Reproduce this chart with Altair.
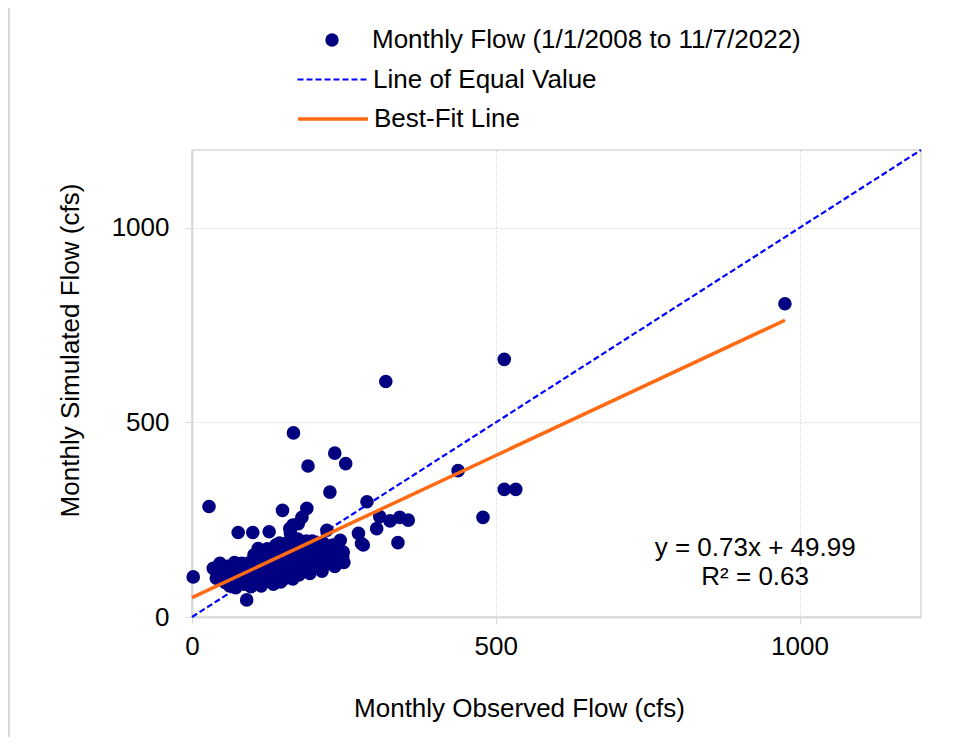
import altair as alt
import pandas as pd

# ---- data ----
observed = [
    976, 514, 319, 167, 235, 253, 191, 438, 227, 288, 28, 149, 189, 479, 514, 533,
    76, 100, 127, 175, 161, 222, 274, 304, 279, 309, 326, 342, 356, 339, 282, 247,
    244, 230, 2, 90, 46, 35, 109, 249, 181, 166,
    40, 45, 50, 52, 55, 58, 60,
    62, 65, 68, 70, 72, 75, 78, 80,
    82, 84, 86, 88, 90, 92, 95, 97, 99, 100,
    102, 104, 106, 108, 110, 112, 114, 116, 118, 120,
    122, 124, 126, 128, 130, 132, 134, 136, 138, 140,
    142, 144, 146, 148, 150, 152, 154, 156, 158, 160,
    162, 164, 166, 168, 170, 172, 174, 176, 178, 180,
    182, 184, 186, 188, 190, 192, 194, 196, 198, 200,
    202, 204, 206, 208, 210, 212, 214, 216, 218, 220,
    223, 226, 228, 232, 235, 238, 242, 245, 248, 250,
]
simulated = [
    805, 662, 605, 473, 421, 394, 388, 376, 321, 296, 284, 274, 279, 256, 328, 328,
    217, 217, 219, 240, 227, 223, 215, 227, 189, 258, 247, 256, 249, 191, 185, 167,
    197, 141, 103, 44, 138, 125, 176, 167, 256, 236,
    100, 112, 95, 120, 88, 130, 105,
    80, 118, 95, 140, 75, 108, 125, 88,
    138, 100, 84, 132, 115, 90, 140, 78, 105, 125,
    160, 85, 138, 98, 118, 150, 80, 170, 108, 130,
    92, 175, 145, 115, 100, 165, 84, 130, 185, 110,
    150, 190, 90, 175, 125, 140, 100, 190, 160, 115,
    215, 135, 98, 180, 150, 120, 200, 108, 165, 140,
    190, 118, 155, 195, 130, 175, 112, 145, 195, 160,
    128, 180, 150, 185, 138, 170, 118, 190, 155, 135,
    175, 175, 150, 185, 130, 165, 165, 150, 155, 140,
]

points_label = "Monthly Flow (1/1/2008 to 11/7/2022)"
equal_label = "Line of Equal Value"
fit_label = "Best-Fit Line"

equal_x = [0, 1200]
equal_y = [0, 1200]
fit_x = [0, 976]
fit_y = [49.99, 762.5]

eq_lines = ["y = 0.73x + 49.99", "R\u00b2 = 0.63"]
eq_x = [927, 927]
eq_y = [177, 103]

FONT = "Liberation Sans"
FS = 26

pts = pd.DataFrame({"obs": observed, "sim": simulated, "series": points_label})
eq_df = pd.DataFrame({"obs": equal_x, "sim": equal_y, "series": equal_label})
fit_df = pd.DataFrame({"obs": fit_x, "sim": fit_y, "series": fit_label})
txt_df = pd.DataFrame({"obs": eq_x, "sim": eq_y, "label": eq_lines})

xscale = alt.Scale(domain=[0, 1200], nice=False, zero=False)
yscale = alt.Scale(domain=[0, 1200], nice=False, zero=False)

xaxis = alt.Axis(values=[0, 500, 1000], title="Monthly Observed Flow (cfs)",
                 labelPadding=9, titlePadding=36, format="d", labelFlush=False,
                 titleX=327, titleAlign="center")
yaxis = alt.Axis(values=[0, 500, 1000], title="Monthly Simulated Flow (cfs)",
                 labelPadding=16, titlePadding=28, format="d", labelFlush=False,
                 titleY=200, titleAlign="center")

X = alt.X("obs:Q", scale=xscale, axis=xaxis)
Y = alt.Y("sim:Q", scale=yscale, axis=yaxis)


def leg(x, y, **kw):
    return alt.Legend(title=None, orient="none", legendX=x, legendY=y,
                      labelFont=FONT, labelFontSize=FS, labelColor="#000000",
                      labelLimit=0, padding=0, **kw)


frame = alt.Chart(pd.DataFrame({"k": [0]})).mark_rect(
    fill="#ffffff", fillOpacity=0, stroke="#d9d9d9", strokeWidth=2
).encode(x=alt.value(-183), x2=alt.value(900), y=alt.value(-143), y2=alt.value(720))

equal_line = alt.Chart(eq_df).mark_line(strokeDash=[6, 3], strokeWidth=2.2).encode(
    x=X, y=Y,
    color=alt.Color("series:N", scale=alt.Scale(domain=[equal_label], range=["#0000FF"]),
                    legend=leg(104, -107, symbolType="stroke", symbolSize=4900,
                               symbolDash=[6, 3], symbolStrokeWidth=2.2, labelOffset=4)),
)

points = alt.Chart(pts).mark_circle(size=185, opacity=1).encode(
    x=X, y=Y,
    color=alt.Color("series:N", scale=alt.Scale(domain=[points_label], range=["#000080"]),
                    legend=leg(127, -123, symbolType="circle", symbolSize=180,
                               symbolOpacity=1, labelOffset=27)),
)

fit_line = alt.Chart(fit_df).mark_line(strokeWidth=3.5).encode(
    x=X, y=Y,
    color=alt.Color("series:N", scale=alt.Scale(domain=[fit_label], range=["#FF6A13"]),
                    legend=leg(104, -68, symbolType="stroke", symbolSize=4900,
                               symbolStrokeWidth=3.5, labelOffset=4)),
)

text = alt.Chart(txt_df).mark_text(font=FONT, fontSize=FS, color="#000000",
                                   align="center", baseline="middle").encode(
    x=X, y=Y, text="label:N")

chart = (
    alt.layer(frame, equal_line, points, fit_line, text)
    .resolve_scale(color="independent")
    .properties(
        width=729, height=467,
        padding={"left": 184, "top": 142, "right": 40, "bottom": 120},
        autosize=alt.AutoSizeParams(type="none"),
    )
    .configure(font=FONT)
    .configure_view(stroke="#d9d9d9", strokeWidth=1.5)
    .configure_axis(
        labelFont=FONT, labelFontSize=FS, labelColor="#000000",
        titleFont=FONT, titleFontSize=FS, titleColor="#000000", titleFontWeight="normal",
        domainColor="#d9d9d9", domainWidth=2,
        tickColor="#d9d9d9", tickSize=7, tickWidth=1,
        gridColor="#d9d9d9", gridDash=[2, 2], gridWidth=1,
    )
)

chart.save("out.html", embed_options={"renderer": "svg", "actions": False})
